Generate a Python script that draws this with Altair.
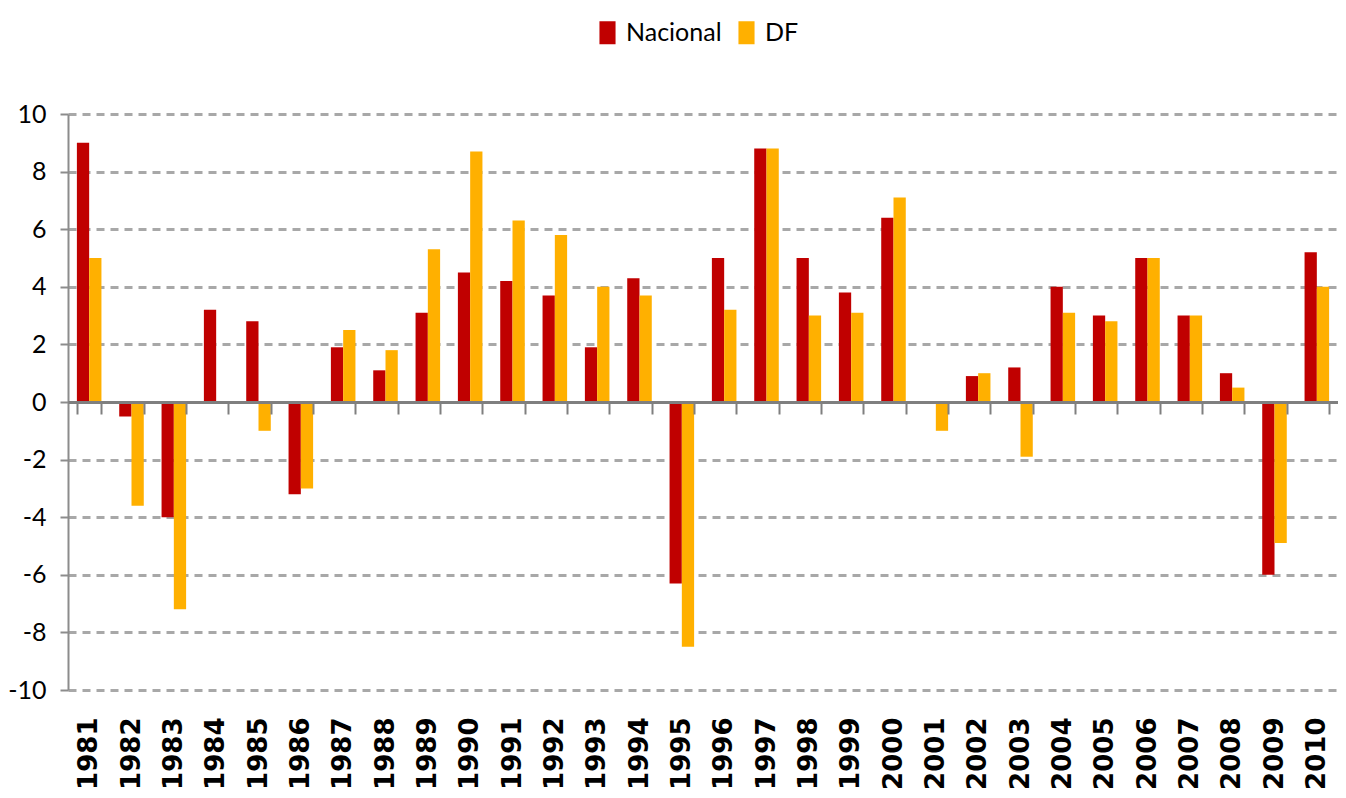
import altair as alt
import pandas as pd

years = [str(y) for y in range(1981, 2011)]
nacional = [9.0, -0.5, -4.0, 3.2, 2.8, -3.2, 1.9, 1.1, 3.1, 4.5,
            4.2, 3.7, 1.9, 4.3, -6.3, 5.0, 8.8, 5.0, 3.8, 6.4,
            0.0, 0.9, 1.2, 4.0, 3.0, 5.0, 3.0, 1.0, -6.0, 5.2]
df_vals = [5.0, -3.6, -7.2, 0.0, -1.0, -3.0, 2.5, 1.8, 5.3, 8.7,
           6.3, 5.8, 4.0, 3.7, -8.5, 3.2, 8.8, 3.0, 3.1, 7.1,
           -1.0, 1.0, -1.9, 3.1, 2.8, 5.0, 3.0, 0.5, -4.9, 4.0]
series = ["Nacional", "DF"]
colors = ["#C00000", "#FFB000"]
y_ticks = [-10, -8, -6, -4, -2, 0, 2, 4, 6, 8, 10]

rows = []
for i, y in enumerate(years):
    rows.append({"year": y, "series": "Nacional", "value": nacional[i]})
    rows.append({"year": y, "series": "DF", "value": df_vals[i]})
data = pd.DataFrame(rows)

W, H = 1270, 576
xscale = alt.Scale(domain=years, paddingInner=0.42, paddingOuter=0.21)
yscale = alt.Scale(domain=[-10, 10], nice=False, zero=False)

font = "Lato"

bars = alt.Chart(data).mark_bar().encode(
    x=alt.X("year:N", scale=xscale, sort=years,
            axis=alt.Axis(title=None, labelAngle=-90, labelAlign="right",
                          labelBaseline="middle", labelFont="DejaVu Sans",
                          labelFontWeight="bold", labelFontSize=26,
                          labelColor="#000000", labelPadding=27,
                          ticks=False, tickSize=0, domain=False, grid=False)),
    xOffset=alt.XOffset("series:N", sort=series,
                        scale=alt.Scale(domain=series, paddingInner=0, paddingOuter=0)),
    y=alt.Y("value:Q", scale=yscale,
            axis=alt.Axis(title=None, values=y_ticks, labelFont=font,
                          labelFontSize=25, labelColor="#000000",
                          labelExpr="datum.value + ''",
                          labelPadding=14, tickSize=8, tickColor="#8c8c8c",
                          tickWidth=2, domainColor="#8c8c8c", domainWidth=2,
                          gridColor="#a8a8a8", gridWidth=3, gridDash=[8, 6])),
    color=alt.Color("series:N", sort=series,
                    scale=alt.Scale(domain=series, range=colors),
                    legend=alt.Legend(title=None, orient="none", direction="horizontal",
                                      legendX=527, legendY=-94,
                                      labelFont=font, labelFontSize=25,
                                      labelColor="#000000", labelOffset=6,
                                      symbolType="M-0.7,-1H0.7V1H-0.7Z",
                                      symbolSize=529, symbolStrokeWidth=0,
                                      columnPadding=12)),
)

zero_axis = alt.Chart(data).mark_point(opacity=0).encode(
    x=alt.X("year:N", scale=xscale, sort=years,
            axis=alt.Axis(title=None, labels=False, orient="bottom", offset=-H / 2,
                          domain=True, domainColor="#7f7f7f", domainWidth=3,
                          ticks=True, tickBand="extent", tickSize=12,
                          tickColor="#7f7f7f", tickWidth=2, grid=False,
                          zindex=1)),
    y=alt.datum(0),
)

chart = alt.layer(bars, zero_axis).resolve_axis(x="independent").properties(
    width=W, height=H,
    autosize=alt.AutoSizeParams(type="none"),
    padding={"left": 60, "top": 106, "right": 0, "bottom": 100},
).configure_view(stroke=None)

chart.save("out.html", embed_options={"renderer": "svg", "actions": False})
